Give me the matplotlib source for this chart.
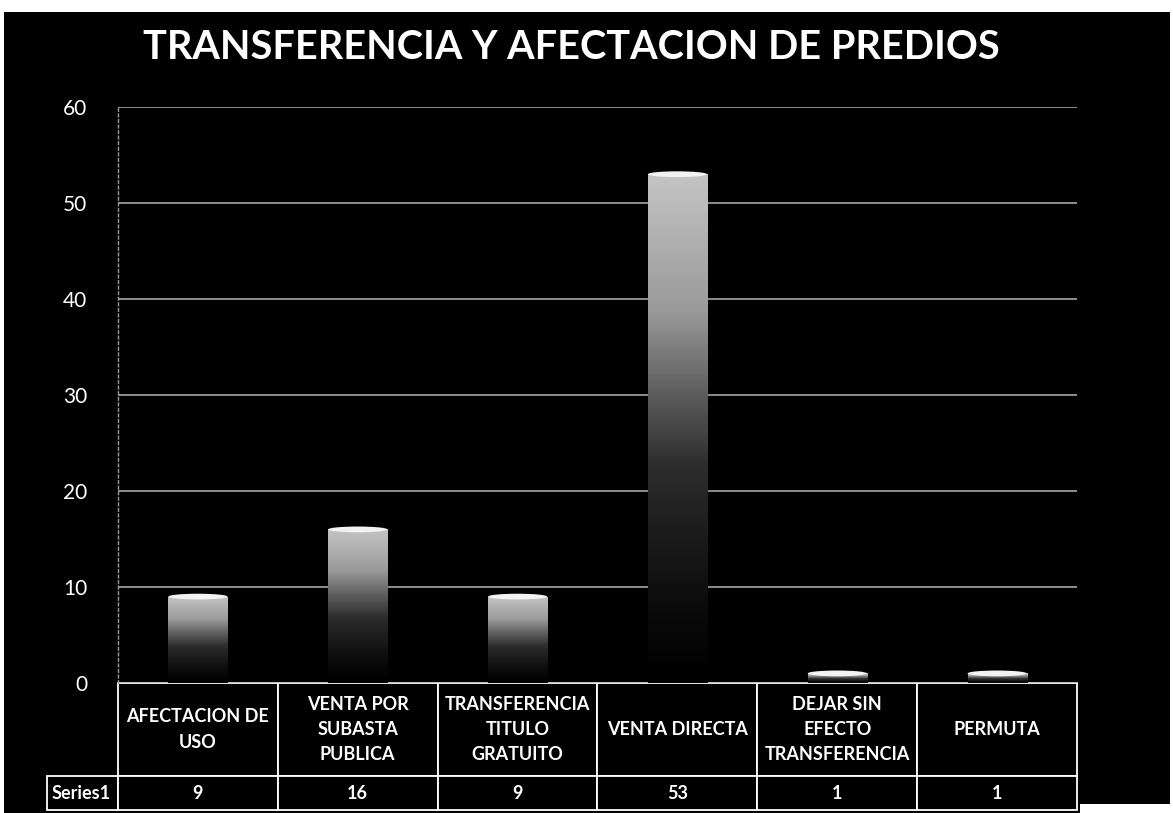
# Transferencia y afectacion de predios - barras con tabla de datos
import numpy as np
import matplotlib
matplotlib.use('Agg')
import matplotlib.pyplot as plt
from matplotlib.colors import LinearSegmentedColormap
from matplotlib.patches import Rectangle, Ellipse
from matplotlib.table import Table

categorias = ['AFECTACION DE\nUSO', 'VENTA POR\nSUBASTA\nPUBLICA', 'TRANSFERENCIA\nTITULO\nGRATUITO',
              'VENTA DIRECTA', 'DEJAR SIN\nEFECTO\nTRANSFERENCIA', 'PERMUTA']
valores = [9, 16, 9, 53, 1, 1]
serie = 'Series1'
yticks = [0, 10, 20, 30, 40, 50, 60]
titulo = 'TRANSFERENCIA Y AFECTACION DE PREDIOS'

plt.rcParams['font.family'] = ['Lato', 'DejaVu Sans']

fig = plt.figure(figsize=(11.73, 8.13), dpi=100, facecolor='white')
# fondo negro (el grafico escaneado)
fig.patches.append(Rectangle((4/1173, 0), 1166/1173, 801/813, transform=fig.transFigure,
                             facecolor='black', edgecolor='none', zorder=-10))
fig.patches.append(Rectangle((1080/1173, 0), 93/1173, 9/813, transform=fig.transFigure,
                             facecolor='white', edgecolor='none', zorder=-9))

ax = fig.add_axes([118/1173, 130/813, 959/1173, 576/813])
ax.set_facecolor('black')
ax.set_xlim(-0.5, len(valores) - 0.5)
ax.set_ylim(0, 60)
ax.set_yticks(yticks)
ax.set_xticks([])
ax.tick_params(axis='y', colors='white', labelsize=15, length=0, pad=22)
for s in ['top', 'right', 'bottom']:
    ax.spines[s].set_visible(False)
ax.spines['left'].set_color('#9a9a9a')
ax.spines['left'].set_linewidth(1)
ax.spines['left'].set_linestyle((0, (2, 2)))
ax.grid(axis='y', color='#b4b4b4', linewidth=1.1)
ax.set_axisbelow(True)

cmap = LinearSegmentedColormap.from_list('g', ['#000000', '#2e2e2e', '#9a9a9a', '#c4c4c4'])
ancho = 0.37
grad = np.linspace(0, 1, 256).reshape(-1, 1) ** 1.3
for i, v in enumerate(valores):
    rect = Rectangle((i - ancho/2, 0), ancho, v, facecolor='none', edgecolor='none')
    ax.add_patch(rect)
    im = ax.imshow(grad, cmap=cmap, aspect='auto', origin='lower',
                   extent=(i - ancho/2, i + ancho/2, 0, v), zorder=2, vmin=0, vmax=1)
    im.set_clip_path(rect)
    ax.add_patch(Ellipse((i, v), ancho, 0.6, facecolor='#f2f2f2', edgecolor='none', zorder=3))

# tabla de datos debajo del eje
tb = Table(ax, bbox=[-71/959, -127/576, 1 + 71/959, 127/576])
tb.auto_set_font_size(False)
esquina = tb.add_cell(0, 0, width=71, height=93, text='', facecolor='black', edgecolor='black')
esquina.visible_edges = ''
for j, cat in enumerate(categorias):
    tb.add_cell(0, j + 1, width=160, height=93, text=cat, loc='center')
tb.add_cell(1, 0, width=71, height=34, text=serie, loc='left')
for j, v in enumerate(valores):
    tb.add_cell(1, j + 1, width=160, height=34, text=str(v), loc='center')
for (r, c), cell in tb.get_celld().items():
    cell.set_facecolor('black')
    if not (r == 0 and c == 0):
        cell.set_edgecolor('white')
    cell.set_linewidth(1.3)
    t = cell.get_text()
    t.set_color('white')
    t.set_fontweight('bold')
    t.set_fontsize(13)
    t.set_linespacing(1.6)
    if c == 0:
        cell.PAD = 0.06
ax.add_table(tb)

fig.text(0.487, 0.942, titulo, color='white', fontsize=28.5, fontweight='bold',
         ha='center', va='center')

fig.savefig('out.png', dpi=100, facecolor=fig.get_facecolor())
